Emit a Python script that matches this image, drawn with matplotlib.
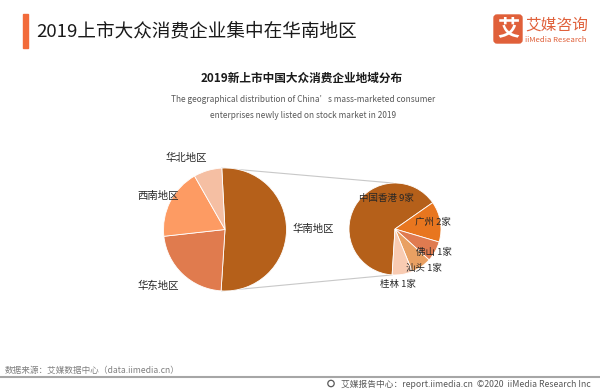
import numpy as np
import matplotlib
matplotlib.use("Agg")
import matplotlib.pyplot as plt
from matplotlib.patches import FancyBboxPatch, Rectangle, Circle

plt.rcParams['font.family'] = ['Noto Sans CJK SC', 'DejaVu Sans']

# data
regions = ['华南地区', '华东地区', '西南地区', '华北地区']
region_counts = [14, 6, 5, 2]
region_colors = ['#B5601A', '#E07B4E', '#FD9B63', '#F5BFA3']

cities = ['中国香港', '广州', '佛山', '汕头', '桂林']
city_counts = [9, 2, 1, 1, 1]
city_colors = ['#B5601A', '#E8761F', '#E07B50', '#E9A062', '#F8CBB2']

W, H = 600, 390
fig = plt.figure(figsize=(6, 3.9), dpi=100)
ax = fig.add_axes([0, 0, 1, 1])


def Y(y):
    return H - y


# main pie
c1 = (225, Y(229.5))
r1 = 61.5
w1, _ = ax.pie(region_counts, colors=region_colors, startangle=93, counterclock=False,
               center=c1, radius=r1, wedgeprops=dict(edgecolor='white', linewidth=0.6))
region_pos = [(313, 229), (158, 286), (158, 196), (186, 158)]
for name, (x, y) in zip(regions, region_pos):
    ax.text(x, Y(y), name, ha='center', va='center', fontsize=7.5, color='#262626')

# small pie
c2 = (395, Y(229))
r2 = 46
w2, _ = ax.pie(city_counts, colors=city_colors, startangle=266.4, counterclock=False,
               center=c2, radius=r2, wedgeprops=dict(edgecolor='white', linewidth=0.6))
city_pos = [(386, 198), (433, 222), (434, 252), (424, 268), (398, 284)]
for name, n, (x, y) in zip(cities, city_counts, city_pos):
    ax.text(x, Y(y), f'{name} {n}家', ha='center', va='center', fontsize=6.8, color='#262626')

# connector lines
for a1, a2 in [(93, 92.5), (267, 266.4)]:
    t1, t2 = np.deg2rad(a1), np.deg2rad(a2)
    ax.plot([c1[0] + r1 * np.cos(t1), c2[0] + r2 * np.cos(t2)],
            [c1[1] + r1 * np.sin(t1), c2[1] + r2 * np.sin(t2)],
            color='#C8C8C8', lw=0.8, zorder=0)

# header
ax.add_patch(Rectangle((23, Y(48)), 4.5, 34, color='#F26B3A'))
ax.text(36, Y(31), '2019上市大众消费企业集中在华南地区', fontsize=13.4, color='#1a1a1a',
        ha='left', va='center')
ax.add_patch(FancyBboxPatch((496, Y(41)), 24, 24, boxstyle='round,pad=2,rounding_size=3',
                            color='#E0603A'))
ax.text(508, Y(29), '艾', fontsize=16, color='white', ha='center', va='center', fontweight='bold')
ax.text(525, Y(25), '艾媒咨询', fontsize=11.3, color='#E0603A', ha='left', va='center')
ax.text(525, Y(39.5), 'iiMedia Research', fontsize=5.6, color='#E0603A', ha='left', va='center')

# chart titles
ax.text(302, Y(78), '2019新上市中国大众消费企业地域分布', fontsize=8.4, fontweight='bold',
        color='#1a1a1a', ha='center', va='center')
ax.text(303, Y(100), 'The geographical distribution of China’s mass-marketed consumer',
        fontsize=6, color='#595959', ha='center', va='center')
ax.text(303, Y(116), 'enterprises newly listed on stock market in 2019',
        fontsize=6, color='#595959', ha='center', va='center')

# footer
ax.text(5, Y(370), '数据来源：艾媒数据中心（data.iimedia.cn）', fontsize=6.2, color='#7f7f7f',
        ha='left', va='center')
ax.plot([0, W], [Y(377), Y(377)], color='#A6A6A6', lw=1.5)
ax.add_patch(Circle((331, Y(383.5)), 3.2, fill=False, ec='#595959', lw=0.9))
ax.text(591, Y(384), '艾媒报告中心：report.iimedia.cn  ©2020  iiMedia Research Inc', fontsize=6.3,
        color='#595959', ha='right', va='center')

ax.set_xlim(0, W)
ax.set_ylim(0, H)
ax.set_aspect('equal')
ax.axis('off')

fig.savefig('out.png', dpi=100)
